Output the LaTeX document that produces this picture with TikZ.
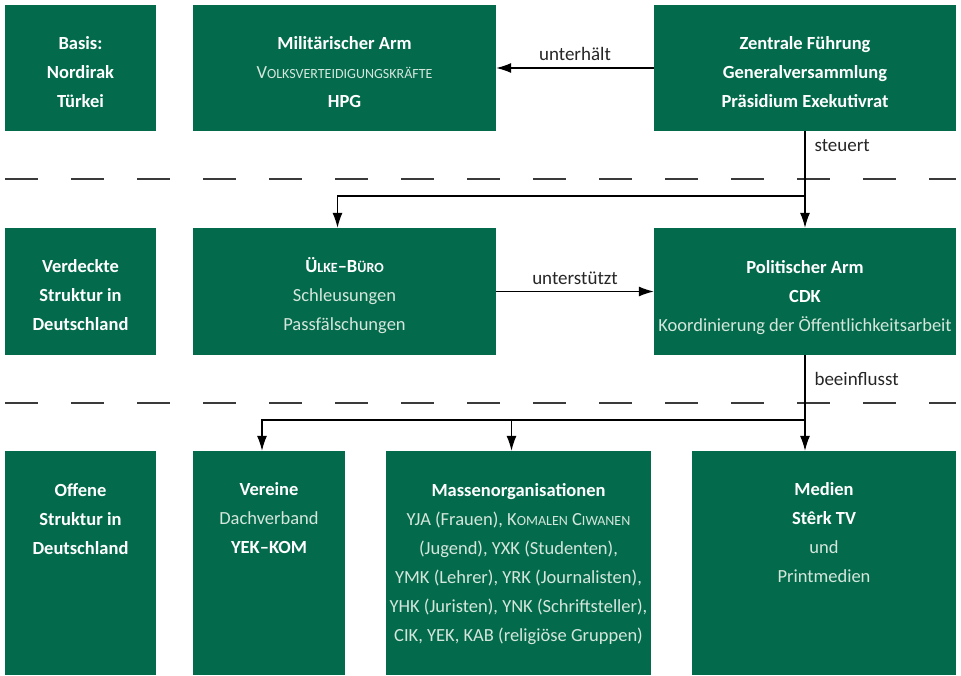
\documentclass[tikz,border=0pt]{standalone}
\usepackage{fontspec}
\setmainfont{Carlito}
\usetikzlibrary{arrows.meta,positioning,calc}

\newcommand{\kap}[1]{{\fontsize{14pt}{29pt}\selectfont #1}}
\newcommand{\soft}[1]{\textcolor{softText}{#1}}

\begin{document}
\begin{tikzpicture}[x=1pt, y=-1pt,
    box/.style={fill=boxColor, inner sep=0pt, minimum height=126pt},
    boxtext/.style={anchor=north, align=center, inner sep=0pt, text=white, font=\fontsize{18.5pt}{29pt}\selectfont},
    conn/.style={line width=1.2pt, -{Latex[length=15pt, width=10pt]}},
    connlabel/.style={font=\fontsize{19pt}{20pt}\selectfont, text=black!85},
    trennlinie/.style={line width=1.5pt, draw=lineColor, dash pattern=on 33pt off 33pt}]
    % Color Palette
    \definecolor{boxColor}{HTML}{036B4B}
    \definecolor{softText}{HTML}{D5E6DD}
    \definecolor{lineColor}{HTML}{3A3A3A}

    \useasboundingbox (0,0) rectangle (961,675);

    % --- Top Row ---
    \node[box, minimum width=151pt] (basis) at (80.5,68) {};
    \node[box, minimum width=303pt] (militaer) at (344.5,68) {};
    \node[box, minimum width=302pt] (zentrale) at (805,68) {};

    \node[boxtext] (basis-t) at ([yshift=-32pt]basis.north) {\textbf{Basis:}\\\textbf{Nordirak}\\\textbf{Türkei}};
    \node[boxtext] (militaer-t) at ([yshift=-32pt]militaer.north) {\textbf{Militärischer Arm}\\\soft{V\kap{OLKSVERTEIDIGUNGSKRÄFTE}}\\\textbf{HPG}};
    \node[boxtext] (zentrale-t) at ([yshift=-32pt]zentrale.north) {\textbf{Zentrale Führung}\\\textbf{Generalversammlung}\\\textbf{Präsidium Exekutivrat}};

    \draw[trennlinie] (5,179) -- (956,179);

    % --- Middle Row ---
    \node[box, minimum width=151pt, minimum height=127pt] (verdeckt) at (80.5,291.5) {};
    \node[box, minimum width=303pt, minimum height=127pt] (uelke) at (344.5,291.5) {};
    \node[box, minimum width=302pt, minimum height=127pt] (politisch) at (805,291.5) {};

    \node[boxtext] (verdeckt-t) at ([yshift=-32pt]verdeckt.north) {\textbf{Verdeckte}\\\textbf{Struktur in}\\\textbf{Deutschland}};
    \node[boxtext] (uelke-t) at ([yshift=-29pt]uelke.north) {\textbf{Ü\kap{LKE}–B\kap{ÜRO}}\\\soft{Schleusungen}\\\soft{Passfälschungen}};
    \node[boxtext] (politisch-t) at ([yshift=-32pt]politisch.north) {\textbf{Politischer Arm}\\\textbf{CDK}\\\soft{Koordinierung der Öffentlichkeitsarbeit}};

    \draw[trennlinie] (5,403) -- (956,403);

    % --- Bottom Row ---
    \node[box, minimum width=151pt, minimum height=224pt] (offen) at (80.5,563) {};
    \node[box, minimum width=152pt, minimum height=224pt] (vereine) at (269,563) {};
    \node[box, minimum width=265pt, minimum height=224pt] (masse) at (518.5,563) {};
    \node[box, minimum width=264pt, minimum height=224pt] (medien) at (824,563) {};

    \node[boxtext] (offen-t) at ([yshift=-32pt]offen.north) {\textbf{Offene}\\\textbf{Struktur in}\\\textbf{Deutschland}};
    \node[boxtext] (vereine-t) at ([yshift=-32pt]vereine.north) {\textbf{Vereine}\\\soft{Dachverband}\\\textbf{YEK–KOM}};
    \node[boxtext] (masse-t) at ([yshift=-32pt]masse.north) {\textbf{Massenorganisationen}\\
        \soft{YJA (Frauen), K\kap{OMALEN} C\kap{IWANEN}}\\
        \soft{(Jugend), YXK (Studenten),}\\
        \soft{YMK (Lehrer), YRK (Journalisten),}\\
        \soft{YHK (Juristen), YNK (Schriftsteller),}\\
        \soft{CIK, YEK, KAB (religiöse Gruppen)}};
    \node[boxtext] (medien-t) at ([yshift=-32pt]medien.north) {\textbf{Medien}\\\textbf{Stêrk TV}\\\soft{und}\\\soft{Printmedien}};

    % Arrows
    \draw[conn] (zentrale.west) -- (militaer.east) node[midway, above=3pt, connlabel] (unterhaelt) {unterhält};
    \draw[conn] (uelke.east) -- (politisch.west) node[midway, above=3pt, connlabel] (unterstuetzt) {unterstützt};

    \coordinate (split1) at (805,196);
    \draw[conn] (zentrale.south) -- (politisch.north);
    \draw[conn] (split1) -| ([xshift=-7pt]uelke.north);
    \node[connlabel, anchor=base west] (steuert) at ([xshift=6pt, yshift=-20pt]zentrale.south) {steuert};

    \coordinate (split2) at (805,420);
    \draw[conn] (politisch.south) -- (politisch.south |- medien.north);
    \draw[conn] (split2) -| ([xshift=-7pt]vereine.north);
    \draw[conn] (split2) -| ([xshift=-7pt]masse.north);
    \node[connlabel, anchor=base west] (beeinflusst) at ([xshift=6pt, yshift=-30pt]politisch.south) {beeinflusst};

\end{tikzpicture}
\end{document}
